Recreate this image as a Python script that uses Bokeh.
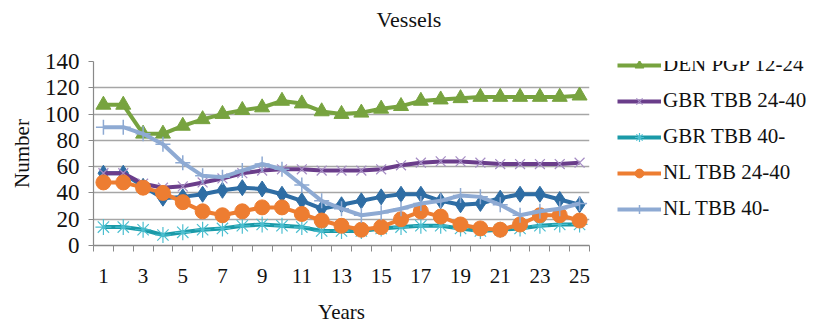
from bokeh.plotting import figure
from bokeh.layouts import row, column
from bokeh.models import (Range1d, FixedTicker, Legend, LegendItem)
from bokeh.embed import file_html
from bokeh.resources import INLINE

# Fleet size per year for each segment
years = list(range(1, 26))
bel_tbb_24_40 = [55, 55, 45, 36, 37, 39, 42, 44, 43, 39, 34, 28, 31, 34, 37, 39, 39, 34, 31, 32, 36, 39, 39, 35, 31]
den_pgp_12_24 = [107, 107, 85, 85, 91, 96, 100, 103, 105, 110, 108, 102, 100, 101, 104, 106, 110, 111, 112, 113, 113, 113, 113, 113, 114]
gbr_tbb_24_40 = [55, 55, 47, 44, 45, 48, 51, 55, 57, 58, 58, 57, 57, 57, 58, 61, 63, 64, 64, 63, 62, 62, 62, 62, 63]
gbr_tbb_40 = [14, 14, 12, 8, 10, 12, 13, 15, 16, 15, 14, 11, 11, 11, 13, 14, 15, 15, 13, 11, 12, 13, 15, 16, 16]
nl_tbb_24_40 = [48, 48, 44, 40, 33, 26, 23, 26, 29, 29, 24, 19, 15, 12, 14, 20, 26, 22, 16, 13, 12, 16, 23, 23, 19]
nl_tbb_40 = [90, 90, 85, 77, 63, 53, 52, 57, 62, 58, 46, 34, 28, 23, 25, 28, 32, 34, 38, 37, 31, 23, 26, 28, 32]

y_ticks = [0, 20, 40, 60, 80, 100, 120, 140]
x_tick_labels = [1, 3, 5, 7, 9, 11, 13, 15, 17, 19, 21, 23, 25]

FONT = "Liberation Serif"
GRID = "#a6a6a6"
AXIS = "#898989"
TEXT = "#111111"


def bare(fig):
    fig.axis.visible = False
    fig.grid.grid_line_color = None
    fig.outline_line_color = None
    fig.background_fill_color = "white"
    fig.border_fill_color = "white"


# title strip
tf = figure(width=817, height=49, output_backend="svg", toolbar_location=None,
            title="Vessels", x_range=Range1d(0, 1), y_range=Range1d(0, 1),
            min_border=0)
tf.title.align = "center"
tf.title.text_font = FONT
tf.title.text_font_size = "22px"
tf.title.text_font_style = "normal"
tf.title.text_color = TEXT
tf.title.standoff = 8
bare(tf)

# main chart
p = figure(width=600, height=277, output_backend="svg", toolbar_location=None,
           title=None, x_range=Range1d(0.5, 25.5), y_range=Range1d(0, 140),
           min_border_left=93, min_border_right=11, min_border_top=12,
           min_border_bottom=81)
p.outline_line_color = None
p.background_fill_color = "white"
p.border_fill_color = "white"

# x axis: labels on odd years, tick marks between categories
xa = p.xaxis[0]
xa.ticker = FixedTicker(ticks=x_tick_labels,
                        minor_ticks=[y - 0.5 for y in years] + [25.5])
xa.major_tick_out = 0
xa.major_tick_in = 0
xa.minor_tick_out = 6
xa.minor_tick_in = 0
xa.minor_tick_line_color = AXIS
xa.axis_line_color = AXIS
xa.axis_line_width = 1.5
xa.major_label_text_font = FONT
xa.major_label_text_font_size = "21px"
xa.major_label_text_color = TEXT
xa.major_label_standoff = 17
xa.axis_label = "Years"
xa.axis_label_text_font = FONT
xa.axis_label_text_font_size = "21px"
xa.axis_label_text_font_style = "normal"
xa.axis_label_text_color = TEXT
xa.axis_label_standoff = 14

ya = p.yaxis[0]
ya.ticker = FixedTicker(ticks=y_ticks)
ya.major_tick_out = 5
ya.major_tick_in = 0
ya.minor_tick_out = 0
ya.minor_tick_in = 0
ya.major_tick_line_color = AXIS
ya.axis_line_color = AXIS
ya.axis_line_width = 1.2
ya.major_label_text_font = FONT
ya.major_label_text_font_size = "23px"
ya.major_label_text_color = TEXT
ya.major_label_standoff = 9
ya.axis_label = "Number"
ya.axis_label_text_font = FONT
ya.axis_label_text_font_size = "21px"
ya.axis_label_text_font_style = "normal"
ya.axis_label_text_color = TEXT
ya.axis_label_standoff = 8

p.xgrid.grid_line_color = None
p.ygrid.grid_line_color = GRID
p.ygrid.grid_line_width = 1.3

series = [
    ("BEL TBB 24-40", bel_tbb_24_40, "#2e6da4", "diamond", 16, "#2e6da4", "#2e6da4", 1),
    ("DEN PGP 12-24", den_pgp_12_24, "#77a33f", "triangle", 15, "#77a33f", "#77a33f", 1),
    ("GBR TBB 24-40", gbr_tbb_24_40, "#6a3d8a", "x", 14, None, "#a58cc4", 1.2),
    ("GBR TBB 40-", gbr_tbb_40, "#1a9aa8", "asterisk", 16, None, "#4cbfd0", 1.2),
    ("NL TBB 24-40", nl_tbb_24_40, "#ed7d31", "circle", 15, "#ed7d31", "#ed7d31", 1),
    ("NL TBB 40-", nl_tbb_40, "#8eaad3", "cross", 15, None, "#8eaad3", 1.5),
]

for name, vals, color, marker, size, fill, mline, mw in series:
    p.line(years, vals, line_color=color, line_width=4)
    p.scatter(years, vals, marker=marker, size=size,
              fill_color=fill, line_color=mline, line_width=mw)

# legend panel to the right of the chart; its glyph renderers sit outside
# the visible range so only the legend entries show
lg = figure(width=217, height=277, output_backend="svg", toolbar_location=None,
            title=None, x_range=Range1d(-10, -9), y_range=Range1d(-10, -9),
            min_border_left=0, min_border_top=12, min_border_right=0,
            min_border_bottom=0)
bare(lg)

items = []
for name, vals, color, marker, size, fill, mline, mw in series:
    r_line = lg.line(years, vals, line_color=color, line_width=4)
    r_mark = lg.scatter(years, vals, marker=marker, size=size,
                        fill_color=fill, line_color=mline, line_width=mw)
    items.append(LegendItem(label=name, renderers=[r_line, r_mark]))

# offset from the frame's bottom-left corner to the legend's bottom-left
legend = Legend(items=items, location=(17, 24), orientation="vertical",
                glyph_width=44, glyph_height=22,
                label_height=22, label_standoff=2, spacing=11,
                padding=0, margin=0, border_line_color=None,
                background_fill_alpha=0)
legend.label_text_font = FONT
legend.label_text_font_size = "21px"
legend.label_text_color = TEXT
lg.add_layout(legend)

layout = column(tf, row(p, lg, spacing=0), spacing=0)
open("out.html", "w").write(file_html(layout, INLINE))
